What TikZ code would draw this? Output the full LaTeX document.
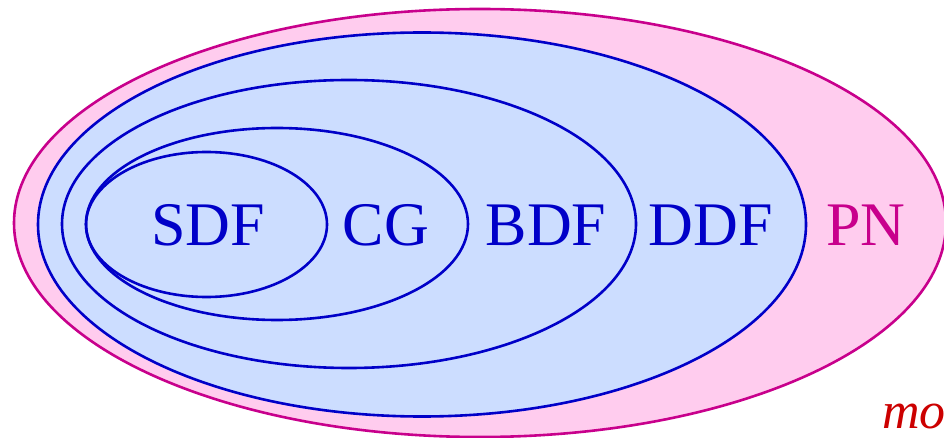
\documentclass[tikz,border=0pt]{standalone}
\usepackage{fontspec}
\setmainfont{Liberation Serif}
\definecolor{pnline}{RGB}{200,0,140}
\definecolor{pnfill}{RGB}{255,204,238}
\definecolor{bline}{RGB}{0,0,200}
\definecolor{bfill}{RGB}{204,221,255}
\definecolor{mored}{RGB}{204,0,0}
\begin{document}
\begin{tikzpicture}[x=1pt,y=-1pt,
  ring/.style={draw=bline,line width=2.6pt},
  lab/.style={text=bline,font=\fontsize{62}{62}\selectfont,inner sep=0pt,anchor=base}]
\useasboundingbox (0,0) rectangle (944,438);
\draw[draw=pnline,fill=pnfill,line width=2.6pt] (480,223) ellipse [x radius=466,y radius=214];
\draw[ring,fill=bfill] (422,224.5) ellipse [x radius=384,y radius=192];
\draw[ring] (349,224) ellipse [x radius=287,y radius=144];
\draw[ring] (277,224) ellipse [x radius=191,y radius=96];
\draw[ring] (206.5,224.5) ellipse [x radius=120.5,y radius=72.5];
\node[lab] (sdf) at (208,246) {SDF};
\node[lab] (cg) at (386,246) {CG};
\node[lab] (bdf) at (546,246) {BDF};
\node[lab] (ddf) at (711,246) {DDF};
\node[lab,text=pnline] (pn) at (866,246) {PN};
\node[text=mored,font=\fontsize{52}{52}\selectfont\itshape,inner sep=0pt,anchor=base west] (mo) at (882,428) {mo};
\end{tikzpicture}
\end{document}
